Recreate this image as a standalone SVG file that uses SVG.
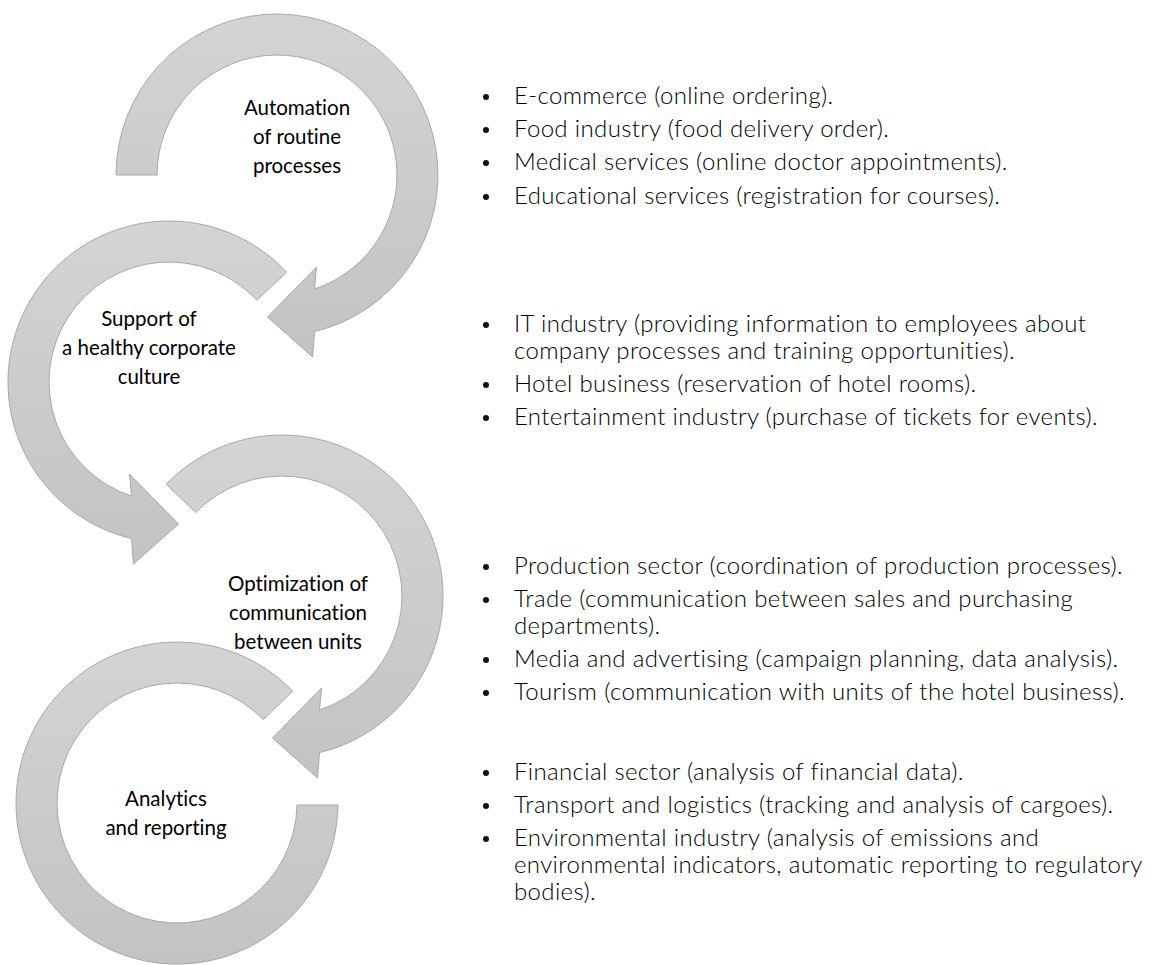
<svg xmlns="http://www.w3.org/2000/svg" width="1163" height="965" viewBox="0 0 1163 965">
  <defs>
    <linearGradient id="bandFill" x1="0" y1="0" x2="0" y2="1">
      <stop offset="0" stop-color="#d4d4d4"/>
      <stop offset="1" stop-color="#c3c3c3"/>
    </linearGradient>
    <style>
      .arrow { fill: url(#bandFill); stroke: #a8a8a8; stroke-width: 1; stroke-linejoin: miter; }
      .label { font-family: Lato, "Liberation Sans", sans-serif; font-size: 20.5px; fill: #000; text-anchor: middle; font-variant-ligatures: none; }
      .item { font-family: Lato, "Liberation Sans", sans-serif; font-weight: 300; font-size: 24px; letter-spacing: 0.35px; fill: #000; font-variant-ligatures: none; }
      .dot { fill: #111; }
    </style>
  </defs>
  <rect width="1163" height="965" fill="#ffffff"/>

  <!-- circular arrows: each is a ring segment with an arrowhead -->
  <g id="connectors">
    <!-- ring 1: starts flat on the left, runs clockwise, head points down-left -->
    <path id="arrow-1" class="arrow" d="M116,175 A161,161 0 1 1 314.5,331.6 L312.5,357 L267.5,317 L316.5,267 L314.5,289 A120,120 0 1 0 157,175 Z"/>
    <!-- ring 2: runs counter-clockwise, head points down-right -->
    <path id="arrow-2" class="arrow" d="M286.7,272.2 A161,161 0 1 0 131.5,538.6 L133.5,564 L178.5,524 L129.5,474 L131.5,496 A120,120 0 1 1 256.8,300.2 Z"/>
    <!-- ring 3: runs clockwise, head points down-left -->
    <path id="arrow-3" class="arrow" d="M166.2,484.2 A161,161 0 1 1 319.5,752.6 L317.5,778 L272.5,738 L321.5,688 L319.5,710 A120,120 0 1 0 195.7,512.6 Z"/>
    <!-- ring 4: runs counter-clockwise, ends flat on the right -->
    <path id="arrow-4" class="arrow" d="M292.8,691.2 A161,161 0 1 0 338,805 L297,805 A120,120 0 1 1 263.3,719.6 Z"/>
  </g>

  <g id="node-automation">
    <text class="label"><tspan x="297" y="115">Automation</tspan><tspan x="297" y="144">of routine</tspan><tspan x="297" y="173">processes</tspan></text>
  </g>
  <g id="node-culture">
    <text class="label"><tspan x="149" y="326">Support of</tspan><tspan x="149" y="355">a healthy corporate</tspan><tspan x="149" y="384">culture</tspan></text>
  </g>
  <g id="node-communication">
    <text class="label"><tspan x="298" y="591">Optimization of</tspan><tspan x="298" y="620">communication</tspan><tspan x="298" y="649">between units</tspan></text>
  </g>
  <g id="node-analytics">
    <text class="label"><tspan x="166" y="806">Analytics</tspan><tspan x="166" y="835">and reporting</tspan></text>
  </g>

  <g id="list-automation">
    <circle class="dot" cx="486" cy="97" r="3"/>
    <circle class="dot" cx="486" cy="130" r="3"/>
    <circle class="dot" cx="486" cy="163" r="3"/>
    <circle class="dot" cx="486" cy="197" r="3"/>
    <text class="item" x="514" y="104">E-commerce (online ordering).</text>
    <text class="item" x="514" y="137">Food industry (food delivery order).</text>
    <text class="item" x="514" y="170">Medical services (online doctor appointments).</text>
    <text class="item" x="514" y="204">Educational services (registration for courses).</text>
  </g>
  <g id="list-culture">
    <circle class="dot" cx="486" cy="325" r="3"/>
    <circle class="dot" cx="486" cy="385" r="3"/>
    <circle class="dot" cx="486" cy="418" r="3"/>
    <text class="item" x="514" y="332">IT industry (providing information to employees about</text>
    <text class="item" x="514" y="359">company processes and training opportunities).</text>
    <text class="item" x="514" y="392">Hotel business (reservation of hotel rooms).</text>
    <text class="item" x="514" y="425">Entertainment industry (purchase of tickets for events).</text>
  </g>
  <g id="list-communication">
    <circle class="dot" cx="486" cy="567" r="3"/>
    <circle class="dot" cx="486" cy="600" r="3"/>
    <circle class="dot" cx="486" cy="660" r="3"/>
    <circle class="dot" cx="486" cy="693" r="3"/>
    <text class="item" x="514" y="574">Production sector (coordination of production processes).</text>
    <text class="item" x="514" y="607">Trade (communication between sales and purchasing</text>
    <text class="item" x="514" y="634">departments).</text>
    <text class="item" x="514" y="667">Media and advertising (campaign planning, data analysis).</text>
    <text class="item" x="514" y="700">Tourism (communication with units of the hotel business).</text>
  </g>
  <g id="list-analytics">
    <circle class="dot" cx="486" cy="773" r="3"/>
    <circle class="dot" cx="486" cy="806" r="3"/>
    <circle class="dot" cx="486" cy="839" r="3"/>
    <text class="item" x="514" y="780">Financial sector (analysis of financial data).</text>
    <text class="item" x="514" y="813">Transport and logistics (tracking and analysis of cargoes).</text>
    <text class="item" x="514" y="846">Environmental industry (analysis of emissions and</text>
    <text class="item" x="514" y="873">environmental indicators, automatic reporting to regulatory</text>
    <text class="item" x="514" y="900">bodies).</text>
  </g>
</svg>
